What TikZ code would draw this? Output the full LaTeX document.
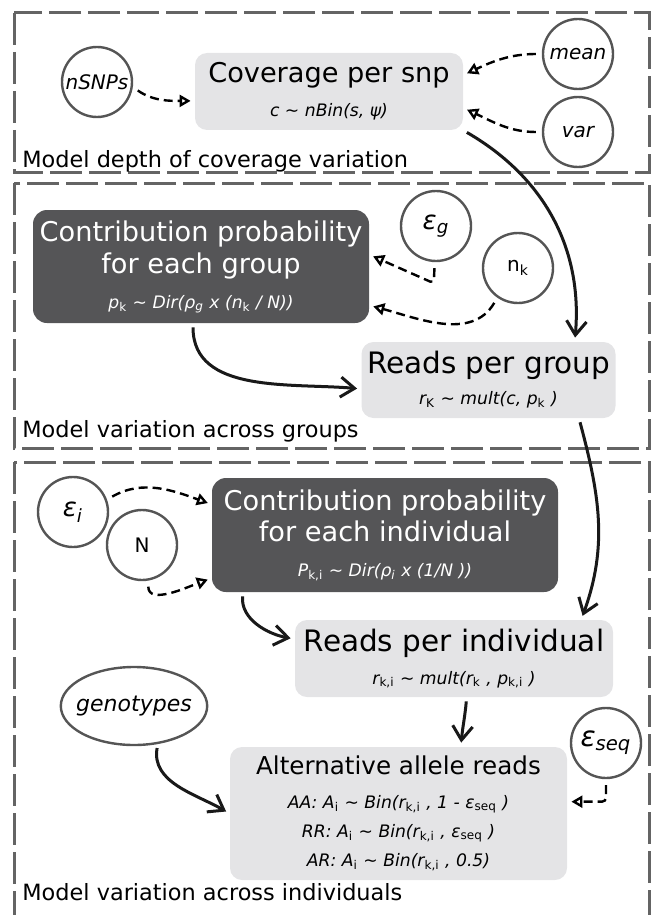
\documentclass[tikz,border=0pt]{standalone}
\usepackage{fontspec}
\setmainfont{DejaVu Sans}
\usetikzlibrary{arrows.meta, shapes.geometric}
\definecolor{boxLight}{RGB}{228,228,230}
\definecolor{boxDark}{RGB}{85,85,87}
\definecolor{ringGray}{RGB}{85,85,85}
\definecolor{frameGray}{RGB}{100,100,100}
\newcommand{\lsub}[1]{\textsubscript{\upshape #1}}
\newcommand{\boxformula}{\fontsize{8.6}{10}\selectfont\itshape}

\begin{document}
\begin{tikzpicture}[x=0.5pt, y=0.5pt,
  frame/.style={draw=frameGray, line width=1.5pt, dash pattern=on 16pt off 3.5pt},
  param/.style={draw=ringGray, circle, line width=1.2pt, minimum size=35pt, inner sep=0pt, font=\fontsize{10}{12}\selectfont},
  iparam/.style={param, font=\fontsize{10}{12}\selectfont\itshape},
  eparam/.style={param, font=\fontsize{13}{15}\selectfont\itshape},
  lightbox/.style={fill=boxLight, rounded corners=6pt, align=center, inner sep=0pt},
  darkbox/.style={fill=boxDark, text=white, rounded corners=7pt, align=center, inner sep=0pt},
  flabel/.style={anchor=base west, inner sep=0pt, font=\fontsize{11.2}{13}\selectfont},
  dep/.style={-{Triangle[open, length=5.5pt, width=6pt, line width=1.2pt]}, dash pattern=on 4.5pt off 2.5pt, line width=1.2pt, shorten >=2pt, shorten <=3pt},
  flow/.style={-{Straight Barb[length=7pt, width=10pt]}, line width=1.5pt, draw=black!90, shorten >=2pt, shorten <=2pt}]
  \clip (0,0) rectangle (652,-915);
  \draw[frame] (14,-13) rectangle (649,-172);
  \draw[frame] (14,-183) rectangle (649,-448);
  \draw[frame] (14,-462) rectangle (649,-940);

  \node[iparam] (nsnps) at (97,-82) {nSNPs};
  \node[iparam] (mean) at (578,-54) {mean};
  \node[iparam] (var) at (578,-132) {var};
  \node[lightbox, minimum width=134pt, minimum height=38.5pt, font=\fontsize{13.6}{16}\selectfont] (cov) at (329,-91.5)
    {Coverage per snp\\[1pt]{\boxformula c \textasciitilde{} nBin(s, ψ)}};
  \node[flabel] (lblcov) at (22,-167) {Model depth of coverage variation};

  \node[darkbox, minimum width=168pt, minimum height=56.5pt, font=\fontsize{13.6}{16}\selectfont] (cgrp) at (201,-266.5)
    {Contribution probability\\for each group\\[1.5pt]{\boxformula p\lsub{k} \textasciitilde{} Dir(ρ\textsubscript{g} x (n\lsub{k} / N))}};
  \node[eparam] (epsg) at (436,-226) {ε\textsubscript{g}};
  \node[param] (nk) at (518,-268) {n\textsubscript{k}};
  \node[lightbox, minimum width=127pt, minimum height=38pt, font=\fontsize{14.75}{16.5}\selectfont] (rpg) at (488.5,-380)
    {Reads per group\\[-1pt]{\boxformula r\lsub{K} \textasciitilde{} mult(c, p\lsub{k} )}};
  \node[flabel] (lblgrp) at (22,-437) {Model variation across groups};

  \node[eparam] (epsi) at (73,-512) {ε\textsubscript{i}};
  \node[param] (N) at (142,-545) {N};
  \node[darkbox, minimum width=173pt, minimum height=57pt, font=\fontsize{13.6}{15.5}\selectfont] (cind) at (385,-535)
    {Contribution probability\\for each individual\\[2pt]{\boxformula P\lsub{k,i} \textasciitilde{} Dir(ρ\textsubscript{i} x (1/N ))}};
  \node[lightbox, minimum width=159pt, minimum height=38.5pt, font=\fontsize{14.75}{16.5}\selectfont] (rpi) at (454,-658.5)
    {Reads per individual\\{\boxformula r\lsub{k,i} \textasciitilde{} mult(r\lsub{k} , p\lsub{k,i} )}};
  \node[ellipse, draw=ringGray, line width=1.2pt, minimum height=39pt, inner xsep=-3pt, inner ysep=0pt, font=\fontsize{11}{13}\selectfont\itshape] (geno) at (134,-706) {genotypes};
  \node[param, font=\fontsize{14}{16}\selectfont\itshape] (epss) at (606,-743) {ε\textsubscript{seq}};
  \node[lightbox, minimum width=168.5pt, minimum height=66.5pt, font=\fontsize{12.3}{14.5}\selectfont] (alt) at (398.5,-813.5)
    {Alternative allele reads\\[2.5pt]
     {\boxformula AA: A\lsub{i} \textasciitilde{} Bin(r\lsub{k,i} , 1 - ε\lsub{seq} )}\\
     {\boxformula RR: A\lsub{i} \textasciitilde{} Bin(r\lsub{k,i} , ε\lsub{seq} )}\\
     {\boxformula AR: A\lsub{i} \textasciitilde{} Bin(r\lsub{k,i} , 0.5)}};
  \node[flabel] (lblind) at (22,-900) {Model variation across individuals};

  \draw[dep] (nsnps.-8) to[out=-35, in=180] (cov.184);
  \draw[dep] (mean.180) to[out=180, in=25] (cov.7);
  \draw[dep] (var.180) to[out=180, in=-25] (cov.-7);
  \draw[flow] (cov.south east) to[out=-30, in=85] (rpg.24);

  \draw[dep, rounded corners=2pt] (epsg.-92) -- ++(-1,-21) -- (cgrp.4);
  \draw[dep] (nk.-125) to[out=-120, in=-15] (cgrp.-13);
  \draw[flow] (cgrp.-98) to[out=-90, in=175] (rpg.184);
  \draw[flow] (rpg.-23) to[out=-75, in=70] (rpi.17);

  \draw[dep] (epsi.20) to[out=30, in=160] (cind.170);
  \draw[dep] (N.-80) to[out=-90, in=200] (cind.194);
  \draw[flow] (cind.-158) to[out=-95, in=170] (rpi.173);
  \draw[flow] (rpi.-72) to[out=-95, in=85] (alt.47);
  \draw[flow] (geno.-58) to[out=-100, in=150] (alt.west);
  \draw[dep, rounded corners=2pt] (epss.south) |- (alt.4);
\end{tikzpicture}
\end{document}
